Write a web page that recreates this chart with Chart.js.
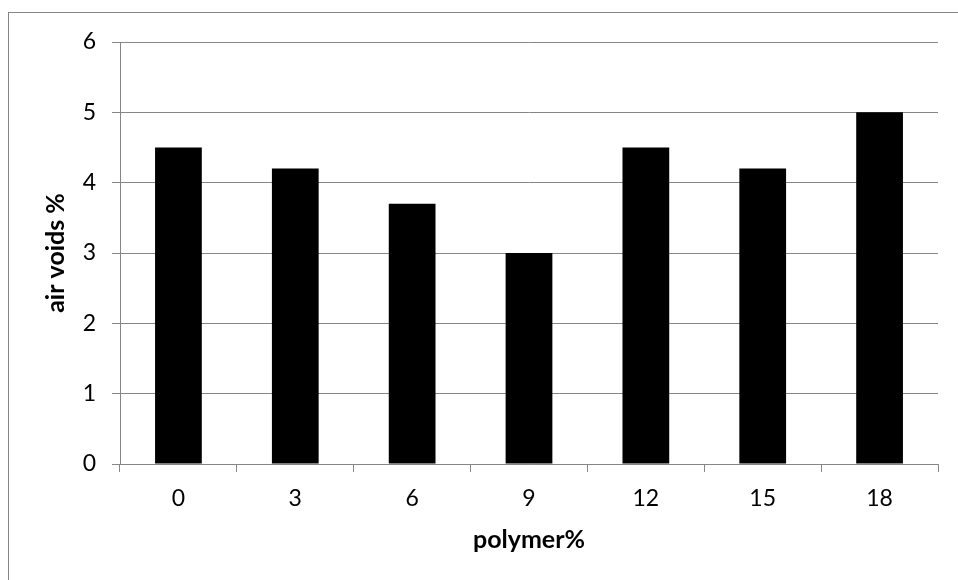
<!DOCTYPE html>
<html>
<head>
<meta charset="utf-8">
<title>air voids</title>
<script src="https://cdn.jsdelivr.net/npm/chart.js@4/dist/chart.umd.min.js"></script>
<style>
    html, body { margin: 0; padding: 0; background: #fff; }
    #wrap { width: 958px; height: 580px; position: relative; }
</style>
</head>
<body>
<div id="wrap"><canvas id="airVoidsChart"></canvas></div>
<script>
// data
const polymerPct = ['0', '3', '6', '9', '12', '15', '18'];
const airVoids = [4.5, 4.2, 3.7, 3.0, 4.5, 4.2, 5.0];
const yTicks = [0, 1, 2, 3, 4, 5, 6];

const GREY = '#868686';
const FONT = 'Lato, "Open Sans", sans-serif';

// thin grey frame round the whole chart (runs off the right and bottom edge)
const outerFrame = {
    id: 'outerFrame',
    afterDraw(chart) {
        const ctx = chart.ctx;
        ctx.save();
        ctx.strokeStyle = GREY;
        ctx.lineWidth = 1;
        ctx.strokeRect(8.5, 12.5, 1200, 1200);
        ctx.restore();
    }
};

const ctx = document.getElementById('airVoidsChart').getContext('2d');
new Chart(ctx, {
    type: 'bar',
    data: {
        labels: polymerPct,
        datasets: [{
            label: 'air voids %',
            data: airVoids,
            backgroundColor: '#000000',
            borderWidth: 0,
            barPercentage: 0.4,
            categoryPercentage: 1.0
        }]
    },
    options: {
        responsive: true,
        maintainAspectRatio: false,
        animation: false,
        layout: {
            padding: { left: 0, top: 42, right: 20, bottom: 0 }
        },
        plugins: {
            legend: { display: false },
            tooltip: { enabled: false }
        },
        scales: {
            x: {
                grid: {
                    display: true,
                    drawOnChartArea: false,
                    offset: true,
                    color: GREY,
                    tickLength: 8
                },
                border: { color: GREY, width: 1 },
                ticks: {
                    color: '#000',
                    padding: 13,
                    font: { family: FONT, size: 23 }
                },
                title: {
                    display: true,
                    text: 'polymer%',
                    color: '#000',
                    padding: { top: 0, bottom: 25 },
                    font: { family: FONT, size: 25, weight: 'bold' }
                },
                afterFit(scale) { scale.height = 116; }
            },
            y: {
                min: 0,
                max: 6,
                afterBuildTicks(scale) {
                    scale.ticks = yTicks.map(v => ({ value: v }));
                },
                grid: {
                    color: GREY,
                    tickLength: 8
                },
                border: { color: GREY, width: 1 },
                ticks: {
                    color: '#000',
                    padding: 16,
                    font: { family: FONT, size: 23 }
                },
                title: {
                    display: true,
                    text: 'air voids %',
                    color: '#000',
                    padding: { top: 41, bottom: 0 },
                    font: { family: FONT, size: 25, weight: 'bold' }
                },
                afterFit(scale) { scale.width = 120; }
            }
        }
    },
    plugins: [outerFrame]
});
</script>
</body>
</html>
